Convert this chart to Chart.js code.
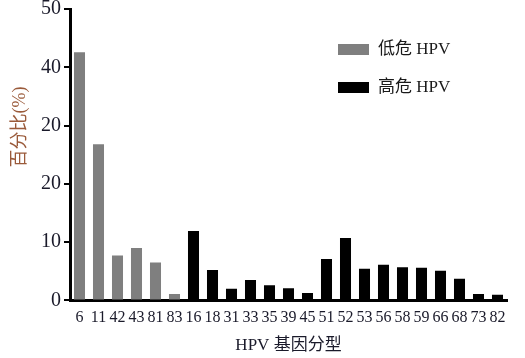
<!DOCTYPE html>
<html>
<head>
<meta charset="utf-8">
<script src="https://cdn.jsdelivr.net/npm/chart.js@4/dist/chart.umd.min.js"></script>
<style>
  html, body { margin: 0; padding: 0; background: #fff; }
  #wrap { width: 525px; height: 358px; position: relative; }
</style>
</head>
<body>
<div id="wrap"><canvas id="c" width="525" height="358"></canvas></div>
<script>
const categories = ['6','11','42','43','81','83','16','18','31','33','35','39','45','51','52','53','56','58','59','66','68','73','82'];
const lowRiskValues  = [42.6, 26.8, 7.7, 9.0, 6.5, 1.1, null, null, null, null, null, null, null, null, null, null, null, null, null, null, null, null, null];
const highRiskValues = [null, null, null, null, null, null, 11.9, 5.2, 2.0, 3.5, 2.6, 2.1, 1.25, 7.1, 10.7, 5.45, 6.1, 5.7, 5.6, 5.1, 3.7, 1.1, 0.97];
const yTickLabels = ['0', '10', '20', '20', '40', '50'];
const seriesNames = ['低危 HPV', '高危 HPV'];
const xTitle = 'HPV 基因分型';
const yTitle = '百分比(%)';

const FONT = "Liberation Serif, DejaVu Serif, Noto Sans CJK SC, serif";

const extras = {
  id: 'extras',
  afterDraw(chart) {
    const ctx = chart.ctx;
    ctx.save();
    // legend
    const x0 = 338, y0 = 44, gap = 38;
    chart.data.datasets.forEach((ds, i) => {
      const y = y0 + i * gap;
      ctx.fillStyle = ds.backgroundColor;
      ctx.fillRect(x0, y, 31, 11);
      ctx.fillStyle = '#1a1a1a';
      ctx.font = "17px " + FONT;
      ctx.textBaseline = 'middle';
      ctx.textAlign = 'left';
      ctx.fillText(ds.label, x0 + 40, y + 6);
    });
    // y title
    ctx.translate(20, 127);
    ctx.rotate(-Math.PI / 2);
    ctx.fillStyle = '#9a5a3a';
    ctx.font = "18px " + FONT;
    ctx.textAlign = 'center';
    ctx.textBaseline = 'middle';
    ctx.fillText(yTitle, 0, 0);
    ctx.restore();
  }
};

new Chart(document.getElementById('c'), {
  type: 'bar',
  data: {
    labels: categories,
    datasets: [
      { label: seriesNames[0], data: lowRiskValues, backgroundColor: '#7f7f7f', borderWidth: 0, categoryPercentage: 0.58, barPercentage: 1 },
      { label: seriesNames[1], data: highRiskValues, backgroundColor: '#000000', borderWidth: 0, categoryPercentage: 0.58, barPercentage: 1 }
    ]
  },
  options: {
    responsive: false,
    animation: false,
    devicePixelRatio: 1,
    layout: { padding: { top: 0, right: 18, left: 38, bottom: 2 } },
    plugins: { legend: { display: false }, tooltip: { enabled: false } },
    scales: {
      x: {
        stacked: true,
        grid: { display: false, drawTicks: false },
        border: { display: true, color: '#000', width: 3 },
        ticks: { autoSkip: false, maxRotation: 0, minRotation: 0, color: '#1a1a2a', font: { family: FONT, size: 16 }, padding: 8 },
        title: { display: true, text: xTitle, color: '#1a1a2a', font: { family: FONT, size: 17 }, padding: { top: 0, bottom: 0 } }
      },
      y: {
        stacked: true,
        min: 0, max: 50,
        ticks: {
          stepSize: 10,
          color: '#1a1a2a',
          font: { family: FONT, size: 20, lineHeight: 0.6 },
          padding: 3,
          callback: (v) => yTickLabels[Math.round(v / 10)]
        },
        grid: { display: true, drawOnChartArea: false, drawTicks: true, tickLength: 6, color: '#000', lineWidth: 2 },
        border: { display: true, color: '#000', width: 3 }
      }
    }
  },
  plugins: [extras]
});
</script>
</body>
</html>
